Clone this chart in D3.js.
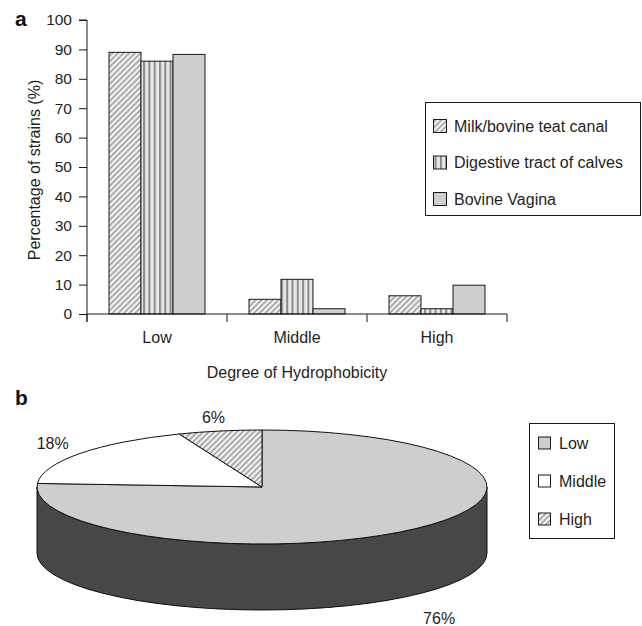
<!DOCTYPE html>
<html>
<head>
<meta charset="utf-8">
<script src="https://cdn.jsdelivr.net/npm/d3@7"></script>
<style>
  html, body { margin: 0; padding: 0; background: #fff; }
  svg { display: block; font-family: "Liberation Sans", Arial, Helvetica, sans-serif; }
</style>
</head>
<body>
<svg id="chart" width="642" height="626"></svg>
<script>
// ---- Data ----
const categories = ["Low", "Middle", "High"];
const seriesNames = ["Milk/bovine teat canal", "Digestive tract of calves", "Bovine Vagina"];
const milkValues = [89, 5, 6.2];
const digestiveValues = [86, 11.8, 1.8];
const vaginaValues = [88.3, 1.8, 9.8];
const yTicks = [0, 10, 20, 30, 40, 50, 60, 70, 80, 90, 100];
const pieLabels = ["Low", "Middle", "High"];
const pieValues = [76, 18, 6];

const seriesValues = [milkValues, digestiveValues, vaginaValues];
const fills = ["url(#diag)", "url(#vert)", "#cdcfce"];
const pieFills = ["#cdcfce", "#ffffff", "url(#diag)"];
const textColor = "#231f20";

const svg = d3.select("#chart");
const defs = svg.append("defs");

// diagonal hatch
const pd = defs.append("pattern").attr("id", "diag")
  .attr("patternUnits", "userSpaceOnUse").attr("width", 4).attr("height", 4)
  .attr("patternTransform", "rotate(45)");
pd.append("rect").attr("width", 4).attr("height", 4).attr("fill", "#f4f4f4");
pd.append("line").attr("x1", 1).attr("y1", 0).attr("x2", 1).attr("y2", 4)
  .attr("stroke", "#9a9a9a").attr("stroke-width", 1.6);

// vertical stripes
const pv = defs.append("pattern").attr("id", "vert")
  .attr("patternUnits", "userSpaceOnUse").attr("width", 5.3).attr("height", 10);
pv.append("rect").attr("width", 5.3).attr("height", 10).attr("fill", "#e8e8e8");
pv.append("rect").attr("x", 0).attr("width", 2).attr("height", 10).attr("fill", "#8a8a8a");

// ---- Bar chart (a) ----
const m = { left: 87, right: 507, top: 20, bottom: 314 };
const x0 = d3.scaleBand().domain(categories).range([m.left, m.right]);
const x1 = d3.scaleBand().domain(seriesNames).range([0, x0.bandwidth()]).paddingOuter(0.6875);
const y = d3.scaleLinear().domain([0, 100]).range([m.bottom, m.top]);

const gBars = svg.append("g");
categories.forEach((c, ci) => {
  seriesNames.forEach((s, si) => {
    const v = seriesValues[si][ci];
    gBars.append("rect")
      .attr("x", x0(c) + x1(s))
      .attr("y", y(v))
      .attr("width", x1.bandwidth())
      .attr("height", y(0) - y(v))
      .attr("fill", fills[si])
      .attr("stroke", "#1a1a1a")
      .attr("stroke-width", 1);
  });
});

// y axis
const yAxis = svg.append("g").attr("transform", `translate(${m.left},0)`)
  .call(d3.axisLeft(y).tickValues(yTicks).tickSize(8).tickPadding(7));
yAxis.select(".domain").attr("d", `M-8,${y(100)}H0V${m.bottom + 8}`).attr("stroke", "#1a1a1a");
yAxis.selectAll(".tick line").attr("stroke", "#1a1a1a");
yAxis.selectAll("text").attr("font-size", 15.5).attr("fill", textColor).attr("font-family", null);

// x axis
const xAxis = svg.append("g").attr("transform", `translate(0,${m.bottom})`)
  .call(d3.axisBottom(x0).tickSize(0).tickPadding(18));
xAxis.select(".domain").attr("d", `M${m.left},0H${m.right}`).attr("stroke", "#1a1a1a");
xAxis.selectAll("text").attr("font-size", 16).attr("fill", textColor).attr("font-family", null);
const bounds = categories.map(c => x0(c)).concat([x0(categories[categories.length - 1]) + x0.bandwidth()]);
xAxis.selectAll(".bound").data(bounds).enter().append("line")
  .attr("x1", d => d).attr("x2", d => d).attr("y1", 0).attr("y2", 8)
  .attr("stroke", "#1a1a1a");

// axis titles
svg.append("text")
  .attr("transform", `translate(40,${(m.top + m.bottom) / 2 + 3}) rotate(-90)`)
  .attr("text-anchor", "middle").attr("font-size", 16).attr("fill", textColor)
  .text("Percentage of strains (%)");
svg.append("text")
  .attr("x", (m.left + m.right) / 2).attr("y", 378)
  .attr("text-anchor", "middle").attr("font-size", 16).attr("fill", textColor)
  .text("Degree of Hydrophobicity");

// panel letters
svg.append("text").attr("x", 15).attr("y", 26).attr("font-size", 21).attr("font-weight", "bold").attr("fill", "#111").text("a");
svg.append("text").attr("x", 15).attr("y", 405).attr("font-size", 21).attr("font-weight", "bold").attr("fill", "#111").text("b");

// bar legend
const lg = svg.append("g");
lg.append("rect").attr("x", 425.5).attr("y", 102.5).attr("width", 215).attr("height", 113)
  .attr("fill", "#fff").attr("stroke", "#1a1a1a").attr("stroke-width", 1);
seriesNames.forEach((s, i) => {
  const cy = 126 + i * 36.5;
  lg.append("rect").attr("x", 433.5).attr("y", cy - 6.5).attr("width", 13).attr("height", 13)
    .attr("fill", fills[i]).attr("stroke", "#1a1a1a");
  lg.append("text").attr("x", 454).attr("y", cy).attr("dy", "0.36em")
    .attr("font-size", 16).attr("fill", textColor).text(s);
});

// ---- 3D pie chart (b) ----
const pcx = 262, pcy = 487, rx = 225, ry = 57, depth = 66;
const pie = d3.pie().sort(null).value(d => d)(pieValues);
const pt = (a, dy = 0) => [pcx + rx * Math.sin(a), pcy - ry * Math.cos(a) + dy];

const gp = svg.append("g");
// side walls (front half: angles PI/2 .. 3PI/2)
pie.forEach((d, i) => {
  const s = Math.max(d.startAngle, Math.PI / 2);
  const e = Math.min(d.endAngle, 3 * Math.PI / 2);
  if (e <= s) return;
  const p0 = pt(s), p1 = pt(e), p1b = pt(e, depth), p0b = pt(s, depth);
  const large = (e - s) > Math.PI ? 1 : 0;
  const path = `M${p0}A${rx},${ry} 0 ${large} 1 ${p1}L${p1b}A${rx},${ry} 0 ${large} 0 ${p0b}Z`;
  gp.append("path").attr("d", path).attr("fill", i === 0 ? "#474747" : "#777")
    .attr("stroke", "#111").attr("stroke-width", 1);
});
// top faces
pie.forEach((d, i) => {
  const p0 = pt(d.startAngle), p1 = pt(d.endAngle);
  const large = (d.endAngle - d.startAngle) > Math.PI ? 1 : 0;
  const path = `M${pcx},${pcy}L${p0}A${rx},${ry} 0 ${large} 1 ${p1}Z`;
  gp.append("path").attr("d", path).attr("fill", pieFills[i])
    .attr("stroke", "#111").attr("stroke-width", 1).attr("stroke-linejoin", "round");
});
// labels
pie.forEach((d, i) => {
  const mid = (d.startAngle + d.endAngle) / 2;
  const front = Math.cos(mid) < 0;
  const [lx, ly] = pt(mid);
  const tx = pcx + (lx - pcx) * 1.15;
  const ty = pcy + (ly - pcy) * 1.15 + (front ? depth + 17 : -5);
  gp.append("text").attr("x", tx).attr("y", ty).attr("dy", "0.36em")
    .attr("text-anchor", "middle").attr("font-size", 16).attr("fill", textColor)
    .text(d.data + "%");
});

// pie legend
const pl = svg.append("g");
pl.append("rect").attr("x", 529.5).attr("y", 423.5).attr("width", 85).attr("height", 115)
  .attr("fill", "#fff").attr("stroke", "#1a1a1a");
pieLabels.forEach((s, i) => {
  const cy = 443 + i * 38;
  pl.append("rect").attr("x", 538.5).attr("y", cy - 6).attr("width", 12).attr("height", 12)
    .attr("fill", pieFills[i]).attr("stroke", "#1a1a1a");
  pl.append("text").attr("x", 559).attr("y", cy).attr("dy", "0.36em")
    .attr("font-size", 16).attr("fill", textColor).text(s);
});
</script>
</body>
</html>
